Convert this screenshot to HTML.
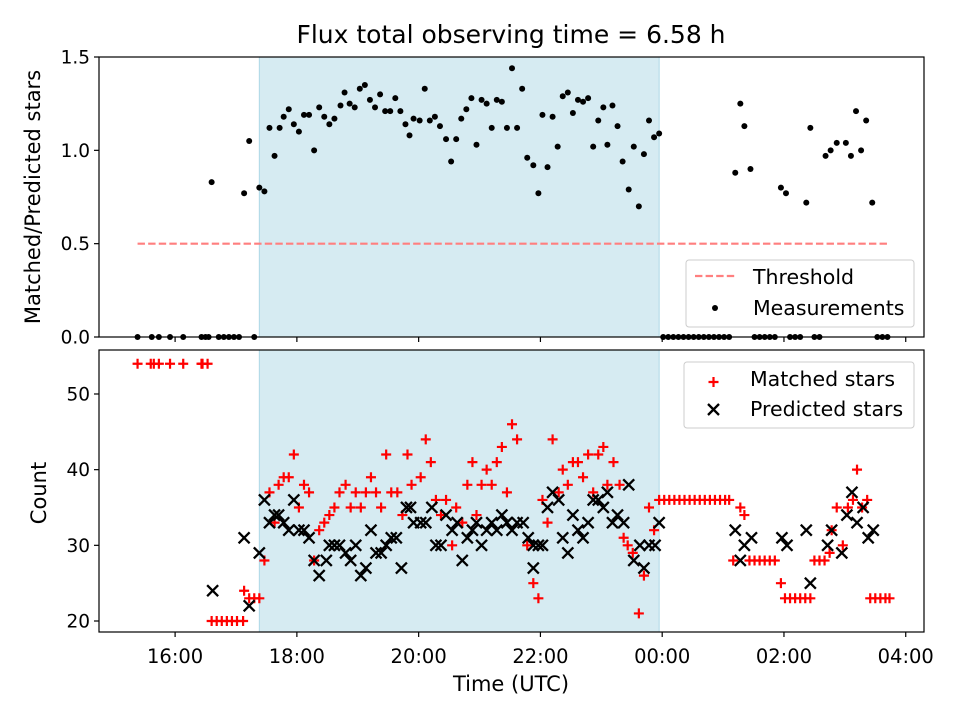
<!DOCTYPE html>
<html><head><meta charset="utf-8"><style>
body{margin:0;background:#fff;}
svg text{font-family:"DejaVu Sans","Liberation Sans",sans-serif;fill:#000;}
</style></head><body>
<svg id="c" width="960" height="720" xmlns="http://www.w3.org/2000/svg"></svg>
<script>
// time in minutes since 16:00 UTC
const ratioTime=[36,68,73,83,88,93,98,103,107,112,117,122,127,132,137,142,147,152,157,163,167,172,177,182,187,192,197,202,207,212,217,222,227,231,235,241,246,251,256,261,267,272,277,282,287,292,297,302,307,312,317,322,327,332,337,342,347,353,358,362,367,372,377,382,387,392,397,402,407,412,417,422,426,431,436,441,447,452,457,462,467,472,477,552,557,561,567,597,602,622,626,641,646,652,661,666,671,676,681,687,
-37,-23,-16,-5,8,26,30,33,43,48,53,58,63,78,481,486,491,496,501,506,511,516,521,526,531,536,541,546,571,576,581,586,591,606,611,616,630,635,692,697,702];
const ratioVal=[0.83,0.77,1.05,0.80,0.78,1.12,0.97,1.12,1.18,1.22,1.14,1.10,1.19,1.19,1.00,1.23,1.18,1.14,1.17,1.24,1.31,1.25,1.23,1.33,1.35,1.27,1.23,1.30,1.21,1.21,1.28,1.21,1.14,1.08,1.17,1.16,1.33,1.16,1.18,1.13,1.06,0.94,1.06,1.17,1.22,1.28,1.03,1.27,1.25,1.12,1.27,1.26,1.12,1.44,1.12,1.33,0.96,0.92,0.77,1.19,0.91,1.18,1.02,1.29,1.31,1.20,1.27,1.26,1.28,1.02,1.16,1.23,1.03,1.24,1.13,0.94,0.79,1.02,0.70,0.98,1.16,1.07,1.09,0.88,1.25,1.13,0.90,0.80,0.77,0.72,1.12,0.97,1.00,1.04,1.04,0.97,1.21,1.00,1.16,0.72,
0,0,0,0,0,0,0,0,0,0,0,0,0,0,0,0,0,0,0,0,0,0,0,0,0,0,0,0,0,0,0,0,0,0,0,0,0,0,0,0,0];
const matchedTime=[-37,-24,-21,-16,-5,8,26,27,32,36,41,46,51,56,61,67,68,73,78,83,88,93,98,102,107,112,117,122,127,132,137,142,147,152,157,162,168,173,183,178,188,198,193,203,208,213,219,224,229,233,242,247,252,257,267,262,273,277,283,288,293,297,302,307,312,317,322,327,332,337,347,353,358,362,367,372,378,382,387,392,397,402,407,417,412,422,426,438,432,442,446,451,457,462,467,472,
477,482,487,492,497,502,507,512,517,522,527,532,537,542,546,557,561,550,566,571,576,581,586,591,597,601,606,611,616,621,626,630,635,640,645,647,652,658,663,668,672,677,682,685,690,695,700,704];
const matchedVal=[54,54,54,54,54,54,54,54,54,20,20,20,20,20,20,20,24,23,23,23,28,37,33,38,39,39,42,35,38,37,28,32,33,34,35,37,38,35,35,37,37,37,39,35,42,37,37,34,42,38,39,44,41,36,36,34,30,35,33,38,41,34,38,40,38,41,43,37,46,44,30,25,23,36,33,44,37,40,38,41,41,39,42,42,37,43,38,38,41,31,30,29,21,26,35,32,
36,36,36,36,36,36,36,36,36,36,36,36,36,36,36,35,34,28,28,28,28,28,28,28,25,23,23,23,23,23,23,28,28,28,29,32,35,30,35,36,40,35,36,23,23,23,23,23];
const predTime=[37,68,73,83,88,93,98,102,107,112,117,122,127,132,137,142,149,152,157,162,168,173,178,183,188,193,198,203,208,213,218,223,228,232,235,242,247,253,257,262,267,273,278,283,288,293,297,302,307,312,317,322,327,332,337,343,348,353,353,358,362,367,372,378,382,387,392,397,402,407,412,417,422,426,431,436,442,447,452,458,462,467,473,477,552,557,561,568,598,603,622,626,643,647,657,662,667,672,678,683,688];
const predVal=[24,31,22,29,36,33,34,34,33,32,36,32,32,31,28,26,28,30,30,30,29,28,30,26,27,32,29,29,30,31,31,27,35,35,33,33,33,35,30,30,34,32,33,28,31,32,33,30,32,33,32,34,33,32,33,33,31,30,27,30,30,35,37,36,31,29,34,32,31,33,36,36,35,37,33,34,33,38,28,30,27,30,30,33,32,28,30,31,31,30,32,25,30,32,29,34,37,33,35,31,32];
const thresholdVal=0.5, thresholdStart=-37, thresholdEnd=702;
const shadeStart=83, shadeEnd=477;
const xTicks=[0,120,240,360,480,600,720];
const xTickLabels=["16:00","18:00","20:00","22:00","00:00","02:00","04:00"];
const topTicks=[0,0.5,1.0,1.5], topTickLabels=["0.0","0.5","1.0","1.5"];
const botTicks=[20,30,40,50], botTickLabels=["20","30","40","50"];

const NS="http://www.w3.org/2000/svg";
const svg=document.getElementById('c');
function mk(t,a,p){const e=document.createElementNS(NS,t);for(const k in a)e.setAttribute(k,a[k]);(p||svg).appendChild(e);return e;}
const L=99,R=924,xmin=-75,xmax=738;
const X=m=>L+(m-xmin)/(xmax-xmin)*(R-L);
const T={top:57,bot:337}, B={top:350,bot:632};
const Yt=v=>337-v/1.5*280;
const Yb=v=>621-(v-20)*7.567;

function axes(box,name){
  const g=mk('g',{});
  
  
  return g;
}
const gt=axes(T,'ratio-panel');
let r=mk('rect',{x:X(shadeStart),y:T.top,width:X(shadeEnd)-X(shadeStart),height:T.bot-T.top,fill:'#add8e6','fill-opacity':0.5,stroke:'#add8e6'},gt);


let tl=mk('line',{x1:X(thresholdStart),x2:X(thresholdEnd),y1:Yt(thresholdVal),y2:Yt(thresholdVal),stroke:'#ff7f7f','stroke-width':2.2,'stroke-dasharray':'7.4,3.2'},gt);


ratioTime.forEach((t,i)=>{const c=mk('circle',{cx:X(t),cy:Yt(ratioVal[i]),r:3,fill:'#000'},gt);

});
const gb=axes(B,'count-panel');
r=mk('rect',{x:X(shadeStart),y:B.top,width:X(shadeEnd)-X(shadeStart),height:B.bot-B.top,fill:'#add8e6','fill-opacity':0.5,stroke:'#add8e6'},gb);


matchedTime.forEach((t,i)=>{const x=X(t),y=Yb(matchedVal[i]);
const p=mk('path',{d:`M${x-5},${y}H${x+5}M${x},${y-5}V${y+5}`,stroke:'#f00','stroke-width':2.2,fill:'none'},gb);

});
predTime.forEach((t,i)=>{const x=X(t),y=Yb(predVal[i]);
const p=mk('path',{d:`M${x-5.5},${y-5.5}L${x+5.5},${y+5.5}M${x-5.5},${y+5.5}L${x+5.5},${y-5.5}`,stroke:'#000','stroke-width':2.3,fill:'none'},gb);

});

[[T,topTicks,topTickLabels,Yt,'top'],[B,botTicks,botTickLabels,Yb,'bottom']].forEach(([bx,tk,lb,Y,n])=>{
  const f=mk('rect',{x:L,y:bx.top,width:R-L,height:bx.bot-bx.top,fill:'none',stroke:'#000','stroke-width':1.2});
  
  
  tk.forEach((v,i)=>{const y=Y(v);mk('line',{x1:L-5,x2:L,y1:y,y2:y,stroke:'#000','stroke-width':1.2});
    const t=mk('text',{x:L-9,y:y+6.5,'text-anchor':'end','font-size':18.5});t.textContent=lb[i];
    
    });
  xTicks.forEach(v=>{mk('line',{x1:X(v),x2:X(v),y1:bx.bot,y2:bx.bot+5,stroke:'#000','stroke-width':1.2});});
});
xTicks.forEach((v,i)=>{const t=mk('text',{x:X(v),y:663,'text-anchor':'middle','font-size':19.5});t.textContent=xTickLabels[i];

});

function txt(x,y,s,sz,name,extra){const t=mk('text',Object.assign({x:x,y:y,'font-size':sz},extra||{}));t.textContent=s;

return t;}
txt(511,43,'Flux total observing time = 6.58 h',25,'chart-title',{'text-anchor':'middle'});
txt(511,691,'Time (UTC)',21,'x-axis-title',{'text-anchor':'middle'});
txt(0,0,'Matched/Predicted stars',21,'top-y-axis-title',{'text-anchor':'middle',transform:'translate(40,197) rotate(-90)'});
txt(0,0,'Count',21,'bottom-y-axis-title',{'text-anchor':'middle',transform:'translate(46,493) rotate(-90)'});

let lg=mk('g',{});


mk('rect',{x:686,y:260,width:228,height:67,rx:3,fill:'#fff','fill-opacity':0.8,stroke:'#ccc'},lg);
mk('line',{x1:695,x2:737,y1:276,y2:276,stroke:'#ff7f7f','stroke-width':2.2,'stroke-dasharray':'7.4,3.2'},lg);
mk('circle',{cx:715,cy:308,r:3,fill:'#000'},lg);
lg.appendChild(txt(753,284,'Threshold',20.5,'legend-threshold'));
lg.appendChild(txt(753,315,'Measurements',20.5,'legend-measurements'));
lg=mk('g',{});


mk('rect',{x:684,y:362,width:230,height:66,rx:3,fill:'#fff','fill-opacity':0.8,stroke:'#ccc'},lg);
mk('path',{d:'M708.5,382H718.5M713.5,377V387',stroke:'#f00','stroke-width':2.2},lg);
mk('path',{d:'M708,404L719,415M708,415L719,404',stroke:'#000','stroke-width':2.3},lg);
lg.appendChild(txt(750,386,'Matched stars',20.5,'legend-matched'));
lg.appendChild(txt(750,416,'Predicted stars',20.5,'legend-predicted'));
</script>
</body></html>
